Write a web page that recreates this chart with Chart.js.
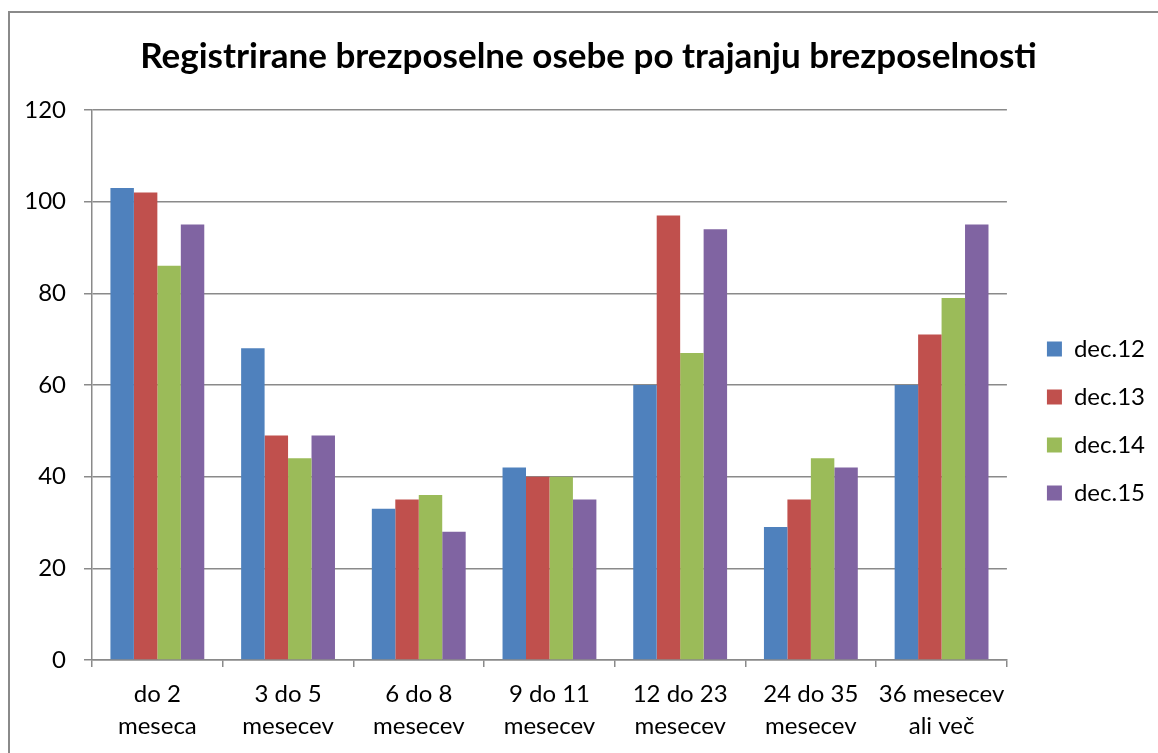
<!DOCTYPE html>
<html>
<head>
<meta charset="utf-8">
<script src="https://cdn.jsdelivr.net/npm/chart.js@4/dist/chart.umd.min.js"></script>
<style>
  html, body { margin: 0; padding: 0; background: #fff; overflow: hidden; }
  #frame { position: absolute; left: 8px; top: 11px; width: 1200px; height: 800px; border: 2px solid #8a8a8a; box-sizing: border-box; }
  #c { position: absolute; left: 0; top: 0; }
</style>
</head>
<body>
<div id="frame"></div>
<canvas id="c" width="1158" height="753"></canvas>
<script>
const categories = [
  ["do 2", "meseca"],
  ["3 do 5", "mesecev"],
  ["6 do 8", "mesecev"],
  ["9 do 11", "mesecev"],
  ["12 do 23", "mesecev"],
  ["24 do 35", "mesecev"],
  ["36 mesecev", "ali več"]
];
const seriesNames = ["dec.12", "dec.13", "dec.14", "dec.15"];
const dec12 = [103, 68, 33, 42, 60, 29, 60];
const dec13 = [102, 49, 35, 40, 97, 35, 71];
const dec14 = [86, 44, 36, 40, 67, 44, 79];
const dec15 = [95, 49, 28, 35, 94, 42, 95];
const yTicks = [0, 20, 40, 60, 80, 100, 120];

const colors = ["#4F81BD", "#C0504D", "#9BBB59", "#8064A2"];
const gridColor = "#8a8a8a";
const font = "Lato, 'Liberation Sans', sans-serif";
const padR = 19;

// title and legend sit a bit off from where chart.js puts them
const nudge = {
  id: "nudge",
  afterLayout(chart) {
    const t = chart.titleBlock;
    if (t) { t.left += 19; t.right += 19; }
    const lg = chart.legend;
    if (lg) {
      lg.left += 16; lg.right += 16;
      lg.top += 36; lg.bottom += 36;
    }
  }
};

const values = [dec12, dec13, dec14, dec15];

new Chart(document.getElementById("c").getContext("2d"), {
  type: "bar",
  data: {
    labels: categories,
    datasets: seriesNames.map((name, i) => ({
      label: name,
      data: values[i],
      backgroundColor: colors[i],
      borderWidth: 0,
      categoryPercentage: 0.718,
      barPercentage: 1
    }))
  },
  options: {
    responsive: false,
    animation: false,
    layout: { padding: { left: 0, right: padR, top: 0, bottom: 0 } },
    plugins: {
      title: {
        display: true,
        text: "Registrirane brezposelne osebe po trajanju brezposelnosti",
        color: "#000",
        font: { family: font, size: 35, weight: "bold", lineHeight: 1.2 },
        padding: { top: 36, bottom: 32 }
      },
      legend: {
        position: "right",
        fullSize: false,
        labels: {
          color: "#000",
          boxWidth: 15,
          boxHeight: 15,
          padding: 24,
          font: { family: font, size: 24, lineHeight: 1.2 }
        }
      },
      tooltip: { enabled: false }
    },
    scales: {
      x: {
        afterFit(scale) { scale.height = 93; },
        grid: { drawOnChartArea: false, offset: true, tickLength: 7, color: gridColor, lineWidth: 1.5 },
        border: { color: gridColor, width: 1.5 },
        ticks: { color: "#000", padding: 11, maxRotation: 0, autoSkip: false, font: { family: font, size: 24, lineHeight: 1.33 } }
      },
      y: {
        min: 0,
        max: 120,
        afterFit(scale) { scale.width = 92; },
        afterBuildTicks(scale) { scale.ticks = yTicks.map(v => ({ value: v })); },
        grid: { color: gridColor, lineWidth: 1.5, tickLength: 8 },
        border: { color: gridColor, width: 1.5 },
        ticks: { color: "#000", padding: 18, font: { family: font, size: 24 } }
      }
    }
  },
  plugins: [nudge]
});
</script>
</body>
</html>
